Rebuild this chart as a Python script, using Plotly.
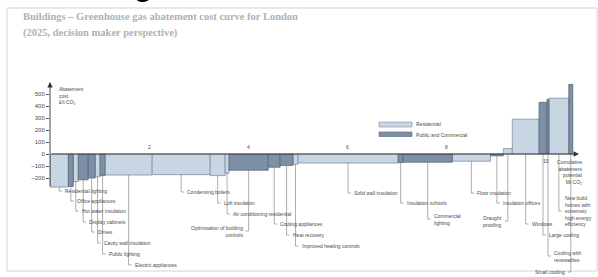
import plotly.graph_objects as go

# ---------------- data ----------------
measures = [
    "Residential lighting", "Office appliances", "Hot water insulation", "Display cabinets",
    "Drives", "Cavity wall insulation", "Public lighting", "Electric appliances",
    "Condensing boilers", "Loft insulation", "Air conditioning residential",
    "Optimisation of building<br>controls", "Cooling appliances", "Heat recovery",
    "Improved heating controls", "Solid wall insulation", "Insulation schools",
    "Commercial<br>lighting", "Floor insulation", "Insulation offices", "Draught<br>proofing",
    "Windows", "Large cooling", "Cooling with<br>renewables",
    "New build<br>homes with<br>extremely<br>high energy<br>efficiency", "Small cooling",
]
sector = ["R", "C", "R", "C", "C", "R", "C", "R", "R", "R", "R", "C", "C", "C", "R", "R",
          "C", "C", "R", "C", "R", "R", "C", "C", "R", "C"]
potential_mt = [0.37, 0.10, 0.10, 0.20, 0.14, 0.10, 0.10, 0.95, 1.17, 0.30, 0.08, 0.79, 0.24,
                0.26, 0.10, 2.02, 0.10, 0.99, 0.77, 0.26, 0.18, 0.54, 0.16, 0.04, 0.40, 0.08]
cost_per_t = [-275, -270, -230, -215, -200, -190, -180, -175, -172, -180, -160, -135, -110,
              -95, -85, -75, -72, -68, -60, -15, 45, 290, 430, 455, 465, 580]
y_ticks = [-200, -100, 0, 100, 200, 300, 400, 500]
x_numbers = [2, 4, 6, 8, 10]

# label layout (pixel row of each label and side of leader)
label_row = [191, 201, 211, 222, 232, 243, 254, 265, 192, 203, 214, 231, 224, 235, 246, 193,
             203, 219, 193, 203, 221, 224, 235, 256, 211, 272]
label_side = ["r", "r", "r", "r", "r", "r", "r", "r", "r", "r", "r", "l", "r", "r", "r", "r",
              "r", "r", "r", "r", "l", "r", "r", "r", "r", "l"]

# ---------------- geometry helpers ----------------
W, H = 598, 277
L, R = 50, 2
PXMT = 49.6           # px per Mt
PXCOST = 0.12         # px per cost unit
ZERO_PY = 154
XMAX = (W - L - R) / PXMT
YTOP = ZERO_PY / PXCOST
YBOT = -(H - ZERO_PY) / PXCOST


def PX(px):  # paper x
    return (px - L) / (W - L - R)


def PY(py):  # paper y
    return 1 - py / H


def DY(py):  # data y from pixel row
    return (ZERO_PY - py) / PXCOST


FILL = {"R": "#c8d5e2", "C": "#7d90a5"}
EDGE = {"R": "#7e8fa2", "C": "#56677a"}
TXT = "#4a4a4a"
FONT = "Liberation Sans"

starts, mids = [], []
acc = 0.0
for w in potential_mt:
    starts.append(acc)
    mids.append(acc + w / 2)
    acc += w

fig = go.Figure()
for sec, name in [("R", "Residential"), ("C", "Public and Commercial")]:
    idx = [i for i, s in enumerate(sector) if s == sec]
    fig.add_trace(go.Bar(
        x=[mids[i] for i in idx], y=[cost_per_t[i] for i in idx],
        width=[potential_mt[i] for i in idx], name=name,
        marker=dict(color=FILL[sec], line=dict(color=EDGE[sec], width=0.8)),
        hovertext=[measures[i].replace("<br>", " ") for i in idx],
        showlegend=False,
    ))

shapes, annotations = [], []

# leaders + labels
hx = 3 / PXMT
for i, m in enumerate(measures):
    x = mids[i]
    y0 = min(cost_per_t[i], 0)
    yl = DY(label_row[i])
    shapes.append(dict(type="line", xref="x", yref="y", x0=x, x1=x, y0=y0, y1=yl,
                       line=dict(color="#777", width=0.6)))
    if label_side[i] == "r":
        shapes.append(dict(type="line", xref="x", yref="y", x0=x, x1=x + hx, y0=yl, y1=yl,
                           line=dict(color="#777", width=0.6)))
        annotations.append(dict(x=x + hx, y=yl, xref="x", yref="y", text=m, showarrow=False,
                                xanchor="left", yanchor="middle", align="left", xshift=1,
                                font=dict(size=5, color=TXT, family=FONT)))
    else:
        shapes.append(dict(type="line", xref="x", yref="y", x0=x, x1=x - hx, y0=yl, y1=yl,
                           line=dict(color="#777", width=0.6)))
        annotations.append(dict(x=x - hx, y=yl, xref="x", yref="y", text=m, showarrow=False,
                                xanchor="right", yanchor="middle", align="right", xshift=-1,
                                font=dict(size=5, color=TXT, family=FONT)))

# axes with arrows
annotations.append(dict(x=0, y=DY(82), ax=0, ay=DY(188), xref="x", yref="y", axref="x",
                        ayref="y", showarrow=True, arrowhead=2, arrowsize=1.2, arrowwidth=0.9,
                        arrowcolor="#333", text=""))
annotations.append(dict(x=(579 - L) / PXMT, y=0, ax=0, ay=0, xref="x", yref="y", axref="x",
                        ayref="y", showarrow=True, arrowhead=2, arrowsize=1.2, arrowwidth=0.9,
                        arrowcolor="#333", text=""))

# cumulative numbers
for v in x_numbers:
    py = 161 if v == 10 else 147
    annotations.append(dict(x=v, y=DY(py), xref="x", yref="y", text=str(v), showarrow=False,
                            font=dict(size=5, color=TXT, family=FONT)))

# axis titles
annotations.append(dict(x=PX(57), y=PY(84), xref="paper", yref="paper",
                        text="Abatement<br>cost<br>£/t CO₂", showarrow=False, align="left",
                        xanchor="left", yanchor="top", font=dict(size=5, color=TXT, family=FONT)))
annotations.append(dict(x=PX(555), y=PY(157), xref="paper", yref="paper",
                        text="Cumulative<br>abatement<br>potential<br>Mt CO₂", showarrow=False,
                        align="right", xanchor="left", yanchor="top",
                        font=dict(size=5, color=TXT, family=FONT)))

# legend
for py0, py1, sec, name, pyt in [(122, 127, "R", "Residential", 124.5),
                                 (132, 136.5, "C", "Public and Commercial", 134.5)]:
    shapes.append(dict(type="rect", xref="paper", yref="paper", x0=PX(379), x1=PX(412),
                       y0=PY(py1), y1=PY(py0), fillcolor=FILL[sec],
                       line=dict(color=EDGE[sec], width=0.6)))
    annotations.append(dict(x=PX(414), y=PY(pyt), xref="paper", yref="paper", text=name,
                            showarrow=False, xanchor="left", yanchor="middle",
                            font=dict(size=5, color=TXT, family=FONT)))

# title
annotations.append(dict(x=PX(21), y=PY(17), xref="paper", yref="paper",
                        text="<b>Buildings – Greenhouse gas abatement cost curve for London</b>",
                        showarrow=False, xanchor="left", yanchor="middle",
                        font=dict(size=10.5, color="#abb2b9", family="Liberation Serif")))
annotations.append(dict(x=PX(21), y=PY(33), xref="paper", yref="paper",
                        text="<b>(2025, decision maker perspective)</b>",
                        showarrow=False, xanchor="left", yanchor="middle",
                        font=dict(size=10.5, color="#abb2b9", family="Liberation Serif")))
# cropped glyph at the very top
annotations.append(dict(x=PX(143), y=PY(4), xref="paper", yref="paper", text="<b>g</b>",
                        showarrow=False, xanchor="center", yanchor="bottom",
                        font=dict(size=30, color="#000", family=FONT)))

# page frame
shapes.append(dict(type="rect", xref="paper", yref="paper", x0=PX(7), x1=PX(597),
                   y0=PY(271), y1=PY(8), line=dict(color="#d4d4d4", width=1),
                   fillcolor="rgba(0,0,0,0)", layer="below"))

fig.update_layout(
    width=W, height=H,
    margin=dict(l=L, r=R, t=0, b=0, pad=0),
    paper_bgcolor="white", plot_bgcolor="white",
    barmode="overlay",
    xaxis=dict(range=[0, XMAX], visible=False, fixedrange=True),
    yaxis=dict(range=[YBOT, YTOP], tickvals=y_ticks, ticks="outside", ticklen=3,
               tickcolor="#555", showgrid=False, zeroline=False, showline=False,
               tickfont=dict(size=6, color=TXT, family=FONT)),
    shapes=shapes, annotations=annotations,
)
fig.write_html("out.html", config={"displayModeBar": False},
               post_script="document.body.style.margin='0';document.body.style.overflow='hidden';")
